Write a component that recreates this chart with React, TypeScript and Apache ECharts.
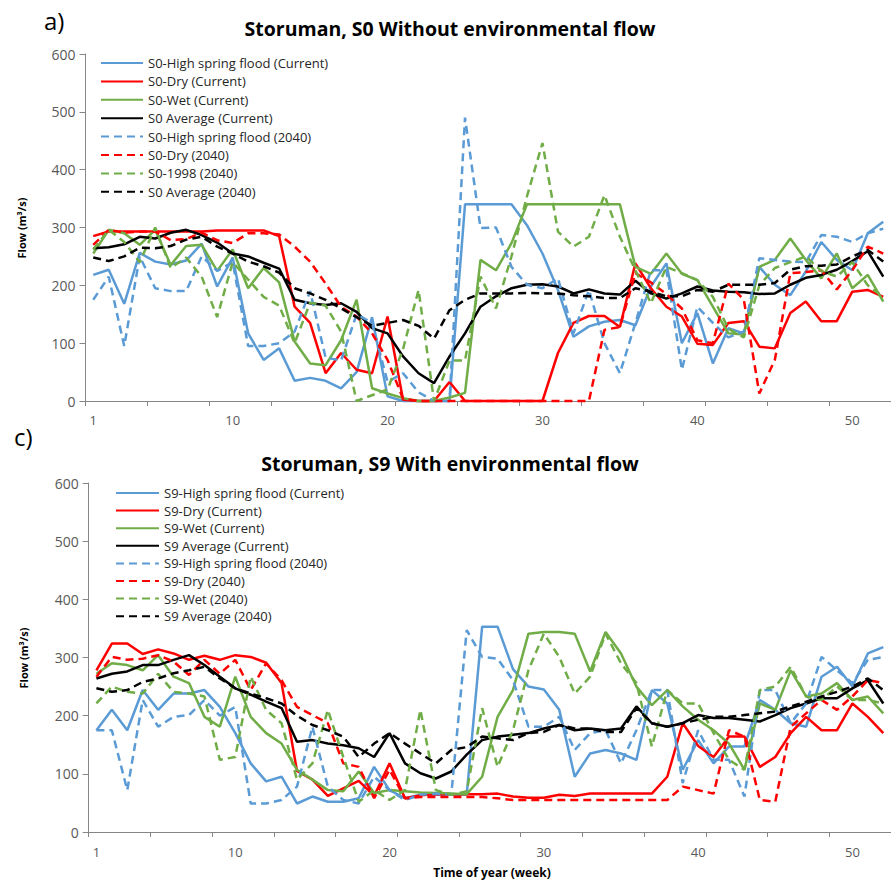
import React, { useEffect, useRef } from "react";
import * as echarts from "echarts";

// ---------- categories ----------
const weeks: string[] = [
  "1","2","3","4","5","6","7","8","9","10","11","12","13","14","15","16","17","18","19","20",
  "21","22","23","24","25","26","27","28","29","30","31","32","33","34","35","36","37","38","39","40",
  "41","42","43","44","45","46","47","48","49","50","51","52",
];
const yTicks = [0, 100, 200, 300, 400, 500, 600];

// ---------- panel a) S0 without environmental flow ----------
const aHsfCur = [218, 227, 168, 256, 241, 236, 243, 272, 198, 248, 117, 71, 91, 35, 40, 35, 22, 50, 145, 8, 0, 0, 0, 0, 340, 340, 340, 340, 304, 255, 192, 111, 129, 137, 140, 131, 198, 238, 100, 152, 65, 126, 117, 232, 201, 183, 224, 275, 244, 226, 290, 310];
const aDryCur = [285, 293, 293, 293, 293, 293, 293, 293, 295, 295, 295, 295, 285, 163, 135, 48, 83, 54, 48, 146, 2, 0, 0, 33, 0, 0, 0, 0, 0, 0, 83, 135, 147, 147, 128, 238, 195, 163, 146, 99, 97, 135, 138, 94, 91, 152, 172, 138, 138, 189, 192, 180];
const aWetCur = [255, 296, 290, 270, 296, 235, 268, 270, 225, 262, 195, 230, 205, 103, 65, 62, 105, 175, 22, 13, 5, 0, 0, 6, 14, 244, 226, 273, 340, 340, 340, 340, 340, 340, 340, 232, 220, 255, 220, 209, 163, 117, 115, 232, 244, 281, 244, 212, 255, 195, 218, 172];
const aAvgCur = [264, 266, 271, 284, 281, 291, 296, 287, 274, 255, 250, 239, 229, 175, 169, 166, 169, 154, 126, 117, 77, 48, 31, 77, 117, 163, 181, 195, 201, 202, 198, 186, 193, 186, 184, 208, 186, 177, 186, 198, 191, 189, 188, 185, 186, 201, 213, 218, 227, 242, 259, 215];
const aHsf2040 = [175, 215, 95, 250, 195, 190, 190, 250, 225, 240, 95, 95, 100, 120, 190, 75, 70, 150, 135, 33, 48, 15, 0, 0, 490, 299, 300, 232, 201, 195, 212, 117, 192, 100, 48, 135, 226, 226, 54, 163, 135, 110, 120, 247, 244, 241, 240, 287, 284, 275, 290, 298];
const aDry2040 = [270, 296, 291, 293, 293, 278, 280, 291, 278, 273, 290, 290, 288, 267, 241, 203, 163, 146, 117, 71, 4, 0, 0, 0, 0, 0, 0, 0, 0, 0, 0, 0, 0, 123, 128, 221, 205, 185, 160, 105, 100, 203, 175, 13, 71, 221, 223, 226, 193, 226, 267, 255];
const a1998_2040 = [262, 296, 275, 240, 300, 230, 248, 215, 145, 240, 210, 180, 165, 100, 170, 165, 120, 0, 10, 20, 90, 192, 0, 70, 70, 215, 160, 250, 354, 446, 293, 267, 284, 356, 284, 226, 169, 232, 221, 209, 180, 125, 110, 200, 230, 240, 250, 225, 215, 240, 200, 180];
const aAvg2040 = [248, 242, 250, 265, 264, 268, 279, 284, 267, 255, 241, 233, 222, 195, 186, 175, 160, 145, 130, 135, 140, 130, 108, 157, 175, 186, 186, 186, 187, 186, 186, 183, 181, 178, 178, 195, 189, 181, 181, 192, 189, 201, 201, 201, 204, 227, 233, 234, 236, 250, 261, 241];

// ---------- panel c) S9 with environmental flow ----------
const cHsfCur = [175, 210, 175, 244, 210, 238, 238, 244, 215, 170, 118, 87, 95, 49, 61, 52, 52, 58, 112, 72, 58, 64, 64, 64, 64, 353, 353, 280, 250, 245, 210, 95, 135, 141, 135, 124, 244, 221, 107, 158, 118, 147, 147, 227, 210, 187, 181, 267, 284, 250, 307, 318];
const cDryCur = [278, 324, 324, 306, 314, 307, 296, 303, 296, 304, 301, 291, 256, 105, 90, 62, 75, 88, 62, 118, 58, 63, 65, 65, 65, 65, 66, 61, 59, 59, 64, 62, 66, 66, 66, 66, 66, 95, 187, 148, 129, 164, 164, 112, 129, 170, 198, 175, 175, 221, 198, 170];
const cWetCur = [272, 290, 287, 278, 304, 267, 256, 198, 181, 267, 198, 170, 152, 107, 90, 72, 70, 104, 67, 72, 70, 68, 67, 66, 65, 95, 198, 244, 341, 344, 344, 341, 276, 344, 307, 250, 218, 244, 216, 193, 175, 152, 107, 221, 210, 278, 233, 238, 256, 227, 233, 204];
const cAvgCur = [264, 272, 276, 287, 287, 296, 304, 287, 267, 247, 236, 224, 213, 155, 158, 152, 149, 144, 129, 170, 118, 101, 92, 104, 133, 158, 164, 167, 170, 178, 184, 175, 178, 175, 178, 216, 187, 181, 187, 201, 196, 196, 193, 190, 201, 213, 221, 230, 230, 247, 261, 221];
const cHsf2040 = [175, 175, 72, 227, 181, 198, 201, 227, 200, 215, 49, 49, 55, 78, 181, 78, 55, 49, 95, 72, 55, 64, 66, 64, 347, 301, 298, 261, 181, 181, 198, 141, 170, 175, 118, 175, 244, 244, 84, 175, 124, 124, 61, 244, 244, 187, 221, 301, 278, 256, 296, 301];
const cDry2040 = [267, 301, 296, 298, 304, 293, 270, 296, 272, 296, 244, 290, 261, 215, 201, 187, 118, 112, 58, 107, 58, 60, 60, 60, 60, 60, 58, 55, 55, 55, 55, 55, 55, 55, 55, 55, 55, 55, 78, 72, 66, 175, 164, 55, 52, 181, 204, 227, 210, 233, 261, 256];
const cWet2040 = [221, 250, 241, 238, 272, 241, 238, 233, 124, 129, 267, 210, 187, 90, 118, 210, 129, 52, 72, 55, 72, 210, 72, 64, 70, 213, 112, 175, 278, 341, 301, 238, 267, 341, 290, 256, 147, 244, 221, 221, 170, 124, 107, 244, 250, 284, 233, 227, 250, 227, 227, 221];
const cAvg2040 = [247, 241, 244, 258, 264, 273, 278, 284, 264, 247, 238, 230, 221, 200, 184, 175, 164, 129, 152, 170, 152, 135, 118, 141, 146, 164, 161, 158, 170, 172, 184, 178, 178, 172, 172, 213, 187, 181, 187, 193, 198, 198, 201, 204, 207, 216, 224, 233, 241, 250, 264, 244];

const BLUE = "#5B9BD5";
const RED = "#FF0000";
const GREEN = "#70AD47";
const BLACK = "#000000";
const FONT = '"Open Sans", "Noto Sans", sans-serif';

type S = { name: string; data: number[]; color: string; dashed: boolean };

const seriesA: S[] = [
  { name: "S0-High spring flood (Current)", data: aHsfCur, color: BLUE, dashed: false },
  { name: "S0-Dry (Current)", data: aDryCur, color: RED, dashed: false },
  { name: "S0-Wet (Current)", data: aWetCur, color: GREEN, dashed: false },
  { name: "S0 Average (Current)", data: aAvgCur, color: BLACK, dashed: false },
  { name: "S0-High spring flood (2040)", data: aHsf2040, color: BLUE, dashed: true },
  { name: "S0-Dry (2040)", data: aDry2040, color: RED, dashed: true },
  { name: "S0-1998 (2040)", data: a1998_2040, color: GREEN, dashed: true },
  { name: "S0 Average (2040)", data: aAvg2040, color: BLACK, dashed: true },
];
const seriesC: S[] = [
  { name: "S9-High spring flood (Current)", data: cHsfCur, color: BLUE, dashed: false },
  { name: "S9-Dry (Current)", data: cDryCur, color: RED, dashed: false },
  { name: "S9-Wet (Current)", data: cWetCur, color: GREEN, dashed: false },
  { name: "S9 Average (Current)", data: cAvgCur, color: BLACK, dashed: false },
  { name: "S9-High spring flood (2040)", data: cHsf2040, color: BLUE, dashed: true },
  { name: "S9-Dry (2040)", data: cDry2040, color: RED, dashed: true },
  { name: "S9-Wet (2040)", data: cWet2040, color: GREEN, dashed: true },
  { name: "S9 Average (2040)", data: cAvg2040, color: BLACK, dashed: true },
];

function toSeries(list: S[], idx: number) {
  return list.map((s) => ({
    name: s.name,
    type: "line",
    xAxisIndex: idx,
    yAxisIndex: idx,
    data: s.data,
    symbol: "none",
    showSymbol: false,
    clip: false,
    lineStyle: { color: s.color, width: 2.5, type: s.dashed ? [8, 5] : "solid" },
    itemStyle: { color: s.color },
  }));
}

const axisColor = "#868686";
const labelColor = "#595959";

function xAxis(grid: number, margin: number) {
  return {
    type: "category",
    gridIndex: grid,
    data: weeks,
    boundaryGap: true,
    axisLine: { lineStyle: { color: axisColor, width: 1 } },
    axisTick: { show: true, interval: 3, length: 5, lineStyle: { color: axisColor } },
    axisLabel: {
      interval: (i: number) => i === 0 || (i + 1) % 10 === 0,
      color: labelColor,
      fontFamily: FONT,
      fontSize: 13,
      margin,
    },
    splitLine: { show: false },
  };
}
function yAxis(grid: number) {
  return {
    type: "value",
    gridIndex: grid,
    min: yTicks[0],
    max: yTicks[yTicks.length - 1],
    interval: 100,
    axisLine: { show: true, lineStyle: { color: axisColor, width: 1 } },
    axisTick: { show: true, length: 6, lineStyle: { color: axisColor } },
    axisLabel: { color: labelColor, fontFamily: FONT, fontSize: 14, margin: 10 },
    splitLine: { show: false },
  };
}

function legend(list: S[], left: number, top: number, w: number, gap: number) {
  return {
    data: list.map((s) => s.name),
    orient: "vertical",
    left,
    top,
    itemWidth: w,
    itemHeight: 14,
    itemGap: gap,
    padding: 0,
    itemStyle: { opacity: 0, borderWidth: 0 },
    textStyle: { fontFamily: FONT, fontSize: 13, color: "#262626", lineHeight: 14 },
    selectedMode: false,
  };
}

export default function App() {
  const ref = useRef<HTMLDivElement>(null);
  useEffect(() => {
    if (!ref.current) return;
    const chart = echarts.init(ref.current, undefined, { renderer: "svg" });
    chart.setOption({
      animation: false,
      backgroundColor: "#ffffff",
      grid: [
        { left: 85.5, top: 54, width: 806, height: 347 },
        { left: 88.7, top: 483, width: 806, height: 349 },
      ],
      xAxis: [xAxis(0, 12), xAxis(1, 13)],
      yAxis: [yAxis(0), yAxis(1)],
      legend: [legend(seriesA, 100, 56, 42, 4.4), legend(seriesC, 115, 486, 43, 3.6)],
      series: [...toSeries(seriesA, 0), ...toSeries(seriesC, 1)],
      graphic: [
        { type: "text", x: 44, y: 20, style: { text: "a)", font: `24px ${FONT}`, fill: "#000", textAlign: "left", textVerticalAlign: "middle" } },
        { type: "text", x: 450, y: 28, style: { text: "Storuman, S0 Without environmental flow", font: `bold 19.5px ${FONT}`, fill: "#000", textAlign: "center", textVerticalAlign: "middle" } },
        { type: "text", x: 14, y: 436, style: { text: "c)", font: `24px ${FONT}`, fill: "#000", textAlign: "left", textVerticalAlign: "middle" } },
        { type: "text", x: 450, y: 463, style: { text: "Storuman, S9 With environmental flow", font: `bold 19.5px ${FONT}`, fill: "#000", textAlign: "center", textVerticalAlign: "middle" } },
        { type: "text", x: 21, y: 228, rotation: Math.PI / 2, style: { text: "Flow (m³/s)", font: `bold 11px ${FONT}`, fill: "#000", textAlign: "center", textVerticalAlign: "middle" } },
        { type: "text", x: 23, y: 658, rotation: Math.PI / 2, style: { text: "Flow (m³/s)", font: `bold 11px ${FONT}`, fill: "#000", textAlign: "center", textVerticalAlign: "middle" } },
        { type: "text", x: 492, y: 872, style: { text: "Time of year (week)", font: `bold 12px ${FONT}`, fill: "#000", textAlign: "center", textVerticalAlign: "middle" } },
      ],
    });
    return () => chart.dispose();
  }, []);
  return <div ref={ref} style={{ position: "absolute", left: 0, top: 0, width: 891, height: 882 }} />;
}
